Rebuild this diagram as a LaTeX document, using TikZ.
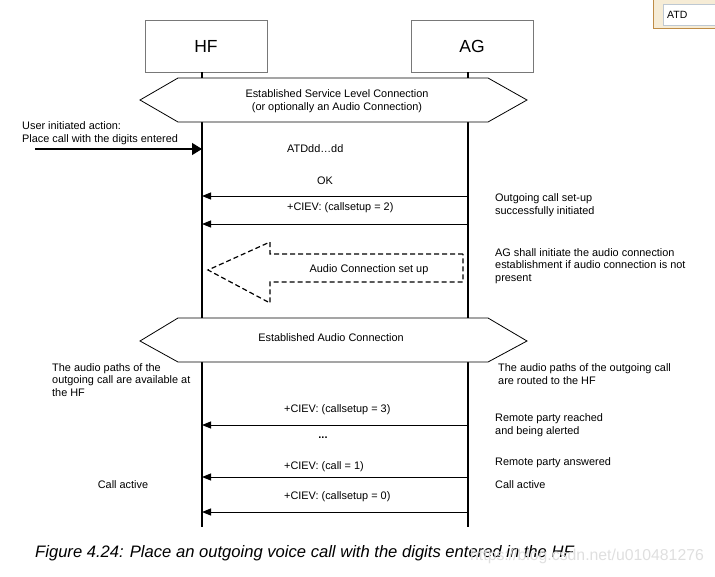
\documentclass[tikz,border=0pt]{standalone}
\usepackage{fontspec}
\setmainfont{Liberation Sans}
\usetikzlibrary{arrows.meta}

\definecolor{boxgray}{RGB}{120,120,120}
\definecolor{atdedge}{RGB}{190,140,70}
\definecolor{atdfill}{RGB}{246,236,214}
\definecolor{atdfield}{RGB}{190,200,210}

\tikzset{
  entity/.style={draw=boxgray, minimum width=122pt, minimum height=52pt, font=\fontsize{17.5}{20}\selectfont},
  lifeline/.style={line width=1.3pt},
  phase/.style={draw, line width=0.8pt, fill=white},
  msg/.style={line width=1pt, -{Triangle[length=9pt,width=7pt]}},
  lbl/.style={font=\fontsize{10.9}{12.5}\selectfont, inner sep=0pt},
  note/.style={lbl, anchor=west, align=left},
}

\begin{document}
\begin{tikzpicture}[x=1pt, y=-1pt]
  \useasboundingbox (0,0) rectangle (715,576);

  % entities
  \node[entity] (hf) at (206,46) {HF};
  \node[entity] (ag) at (472,46) {AG};

  % lifelines
  \coordinate (hfend) at (202,527);
  \coordinate (agend) at (468,527);
  \draw[lifeline] (hf.south -| hfend) -- (hfend);
  \draw[lifeline] (ag.south -| agend) -- (agend);

  % established connections
  \draw[phase] (140,100) -- (178,78) -- (488,78) -- (527,100) -- (488,122) -- (178,122) -- cycle;
  \node[lbl, align=center] (slc) at (337,101) {Established Service Level Connection\\(or optionally an Audio Connection)};
  \draw[phase] (140,341) -- (178,318) -- (488,318) -- (527,341) -- (488,362) -- (178,362) -- cycle;
  \node[lbl] (ac) at (331,338) {Established Audio Connection};

  % user action
  \node[note] (user) at (22,133) {User initiated action:\\Place call with the digits entered};
  \coordinate (userstart) at (35,149);
  \draw[line width=1.3pt, -{Triangle[length=10pt,width=12pt]}] (userstart) -- (userstart -| hfend);
  \node[lbl, anchor=west] (atd) at (287,149) {ATDdd\dots dd};

  % messages AG -> HF
  \foreach \n/\y in {ok/196, cstwo/224, csthree/425, callone/477, cszero/512} {
    \coordinate (\n-ag) at (468,\y);
    \coordinate (\n-hf) at (202,\y);
  }
  \foreach \n in {ok, cstwo, csthree, callone, cszero}
    \draw[msg] (\n-ag) -- (\n-hf);

  \node[lbl] (oklbl) at (325,181) {OK};
  \node[lbl, anchor=west] (cstwolbl) at (287,208) {+CIEV: (callsetup = 2)};
  \node[lbl, anchor=west] (csthreelbl) at (284,410) {+CIEV: (callsetup = 3)};
  \node[lbl] (dots) at (323,438) {\textbf{...}};
  \node[lbl, anchor=west] (callonelbl) at (284,467) {+CIEV: (call = 1)};
  \node[lbl, anchor=west] (cszerolbl) at (284,497) {+CIEV: (callsetup = 0)};

  % audio connection set up
  \draw[line width=1.2pt, dash pattern=on 5pt off 3pt] (463,254) -- (270,254) -- (270,242) -- (208,270)
    -- (270,303) -- (270,282) -- (463,282) -- cycle;
  \node[lbl] (acsetup) at (369,270) {Audio Connection set up};

  % notes
  \node[note] (ntsetup) at (495,205) {Outgoing call set-up\\successfully initiated};
  \node[note] (ntinit) at (495,266) {AG shall initiate the audio connection\\establishment if audio connection is not\\present};
  \node[note] (nthf) at (52,380) {The audio paths of the\\outgoing call are available at\\the HF};
  \node[note] (ntag) at (498,374) {The audio paths of the outgoing call\\are routed to the HF};
  \node[note] (ntreach) at (495,425) {Remote party reached\\and being alerted};
  \node[note] (ntans) at (495,463) {Remote party answered};
  \node[lbl] (hfactive) at (123,485) {Call active};
  \node[note] (agactive) at (495,485) {Call active};

  % caption
  \node[anchor=west, inner sep=0pt, font=\fontsize{16.6}{19}\selectfont\itshape] (caption) at (35,553)
    {Figure 4.24: Place an outgoing voice call with the digits entered in the HF};
  \node[anchor=west, inner sep=0pt, text=gray!25, font=\fontsize{15.8}{18}\selectfont] (mark) at (470,556)
    {https://blog.csdn.net/u010481276};

  % ATD field
  \draw[atdedge, fill=atdfill, line width=1pt] (653,-1) rectangle (717,28);
  \draw[atdfield, fill=white, line width=1pt] (663,4) rectangle (717,25);
  \node[anchor=west, inner sep=0pt, font=\fontsize{10.5}{12}\selectfont] (atdfield) at (667,15) {ATD};
\end{tikzpicture}
\end{document}
